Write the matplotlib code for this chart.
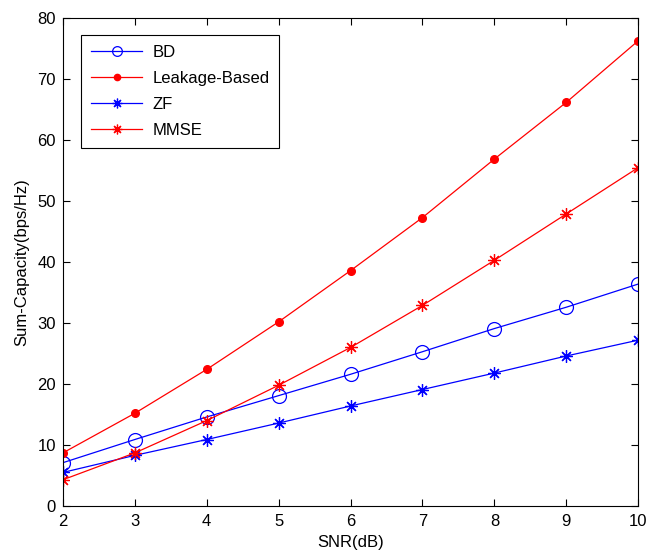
import numpy as np
import matplotlib
matplotlib.use("Agg")
import matplotlib.pyplot as plt

snr = [2, 3, 4, 5, 6, 7, 8, 9, 10]
bd = [7.1, 10.9, 14.6, 18.1, 21.6, 25.3, 29.1, 32.6, 36.4]
leakage = [8.7, 15.2, 22.4, 30.2, 38.6, 47.3, 56.9, 66.2, 76.3]
zf = [5.5, 8.3, 10.9, 13.6, 16.4, 19.1, 21.8, 24.6, 27.2]
mmse = [4.3, 8.7, 14.0, 19.8, 26.0, 32.9, 40.3, 47.9, 55.5]

plt.rcParams['font.family'] = ['Liberation Sans', 'DejaVu Sans']
plt.rcParams['font.size'] = 12

fig = plt.figure(figsize=(6.48, 5.55), dpi=100)
ax = fig.add_axes([0.097, 0.0883, 0.888, 0.879])

# MATLAB-style asterisk: + and x together
asterisk = (8, 2, 0)
ax.plot(snr, bd, color='b', lw=0.9, marker='o', ms=10, mfc='none', mew=0.9, label='BD')
ax.plot(snr, leakage, color='r', lw=0.9, marker='o', ms=5.5, label='Leakage-Based')
ax.plot(snr, zf, color='b', lw=0.9, marker=asterisk, ms=9, mew=0.9, label='ZF')
ax.plot(snr, mmse, color='r', lw=0.9, marker=asterisk, ms=9, mew=0.9, label='MMSE')

ax.set_xlim(2, 10)
ax.set_ylim(0, 80)
ax.set_xticks(range(2, 11))
ax.set_yticks(range(0, 81, 10))
ax.tick_params(direction='in', top=True, right=True, length=5, width=0.8)
ax.tick_params(axis='x', pad=6)
ax.tick_params(axis='y', pad=5)
for s in ax.spines.values():
    s.set_linewidth(0.8)

ax.set_xlabel('SNR(dB)', labelpad=4)
ax.set_ylabel('Sum-Capacity(bps/Hz)', labelpad=6)

leg = ax.legend(loc='upper left', bbox_to_anchor=(0.031, 0.965), borderaxespad=0,
                fancybox=False, edgecolor='k', framealpha=1, handlelength=3.1,
                labelspacing=0.65, borderpad=0.6, handletextpad=0.6)
leg.get_frame().set_linewidth(0.8)
# legend markers are drawn smaller than on the curves
for h, size in zip(leg.get_lines(), [7, 4.5, 7, 7]):
    h.set_markersize(size)

fig.savefig('out.png', dpi=100)
